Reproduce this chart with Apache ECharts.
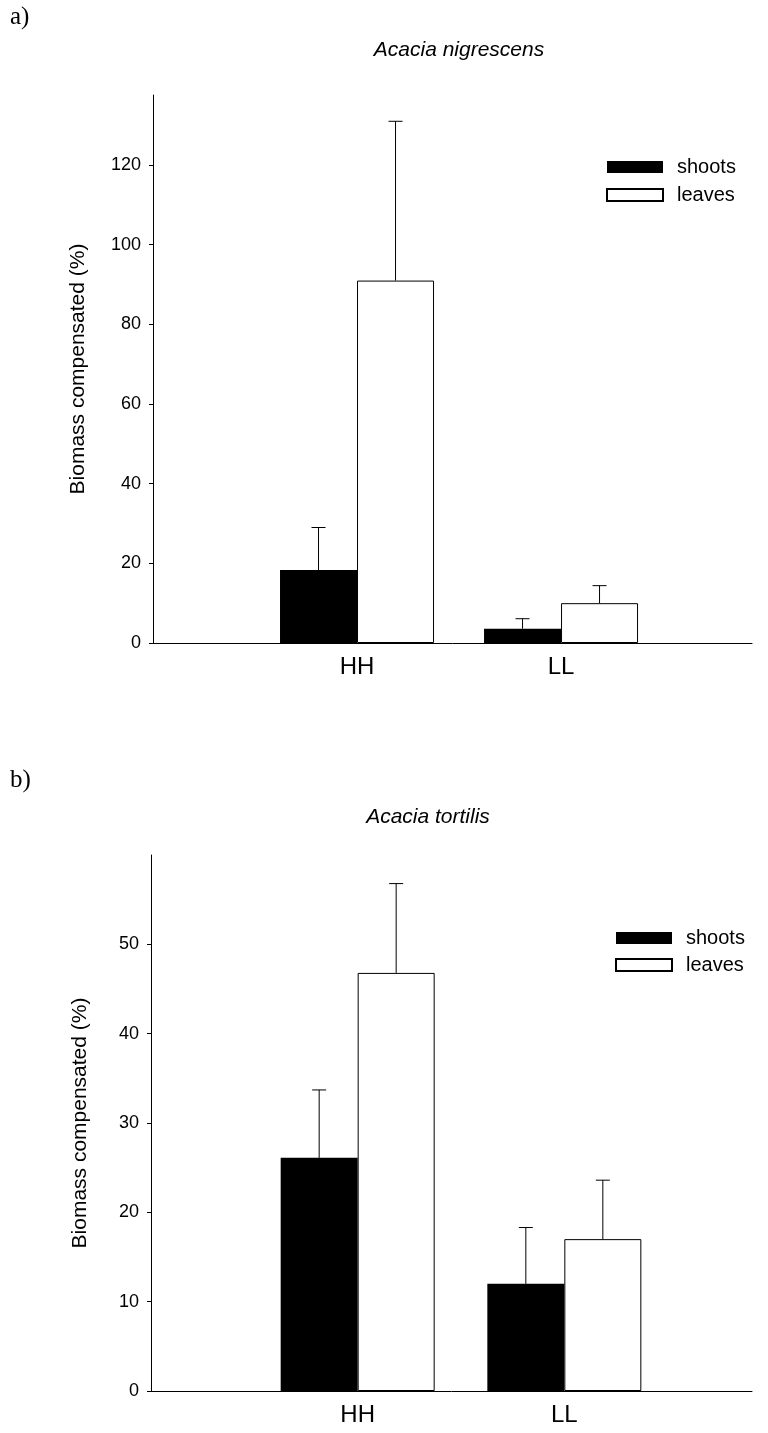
<!DOCTYPE html>
<html>
<head>
<meta charset="utf-8">
<script src="https://cdn.jsdelivr.net/npm/echarts@6/dist/echarts.min.js"></script>
<style>
  html, body { margin: 0; padding: 0; background: #fff; }
  #chart { width: 768px; height: 1433px; }
</style>
</head>
<body>
<div id="chart"></div>
<script>
// ---- data ----
const categories = ['HH', 'LL'];
const categoryPositions = [1, 2];
const seriesNames = ['shoots', 'leaves'];

// panel a) Acacia nigrescens
const aShoots = [18.3, 3.6];
const aShootsErr = [10.7, 2.5];
const aLeaves = [91.0, 10.0];
const aLeavesErr = [40.0, 4.4];
const aYTicks = [0, 20, 40, 60, 80, 100, 120];

// panel b) Acacia tortilis
const bShoots = [26.1, 12.0];
const bShootsErr = [7.6, 6.3];
const bLeaves = [46.8, 17.0];
const bLeavesErr = [10.0, 6.6];
const bYTicks = [0, 10, 20, 30, 40, 50];

const yName = 'Biomass compensated (%)';
const titles = ['Acacia nigrescens', 'Acacia tortilis'];
const panelLabels = ['a)', 'b)'];

// ---- chart ----
const FONT = '"Liberation Sans", Arial, sans-serif';
const SERIF = '"Liberation Serif", "Times New Roman", serif';
const BAR_W = 77;

function barData(vals) { return vals.map((v, i) => [categoryPositions[i], v]); }
function errData(vals, errs) { return vals.map((v, i) => [categoryPositions[i], v, errs[i]]); }

function errSeries(idx, vals, errs, side) {
  return {
    type: 'custom',
    xAxisIndex: idx, yAxisIndex: idx,
    z: 5,
    silent: true,
    data: errData(vals, errs),
    renderItem: function (params, api) {
      const x = api.value(0), y = api.value(1), e = api.value(2);
      const p0 = api.coord([x, y]);
      const p1 = api.coord([x, y + e]);
      const cx = p0[0] + side * BAR_W / 2;
      return {
        type: 'group',
        children: [
          { type: 'line', shape: { x1: cx, y1: p0[1], x2: cx, y2: p1[1] }, style: { stroke: '#000', lineWidth: 1 } },
          { type: 'line', shape: { x1: cx - 7, y1: p1[1], x2: cx + 7, y2: p1[1] }, style: { stroke: '#000', lineWidth: 1 } }
        ]
      };
    }
  };
}

function xAxisDef(idx, max) {
  return {
    type: 'value', gridIndex: idx, min: 0, max: max,
    axisLine: { show: true, lineStyle: { color: '#000', width: 1 } },
    axisTick: { show: false },
    splitLine: { show: false },
    axisLabel: {
      customValues: categoryPositions,
      formatter: v => categories[Math.round(v) - 1] || '',
      fontSize: 24, fontFamily: FONT, color: '#000', margin: 12
    }
  };
}

function yAxisDef(idx, max, ticks, nameGap) {
  return {
    type: 'value', gridIndex: idx, min: 0, max: max,
    name: yName, nameLocation: 'middle', nameGap: nameGap, nameRotate: 90,
    nameTextStyle: { fontSize: 21, fontFamily: FONT, color: '#000' },
    axisLine: { show: true, lineStyle: { color: '#000', width: 1 } },
    axisTick: { show: true, customValues: ticks, length: 4, lineStyle: { color: '#000' } },
    splitLine: { show: false },
    axisLabel: { customValues: ticks, fontSize: 18, fontFamily: FONT, color: '#000', margin: 12 }
  };
}

function barSeries(idx, name, vals) {
  const isShoot = name === 'shoots';
  return {
    type: 'bar', name: name,
    xAxisIndex: idx, yAxisIndex: idx,
    barWidth: BAR_W, barGap: '0%',
    itemStyle: isShoot ? { color: '#000', borderWidth: 0 } : { color: '#fff', borderColor: '#000', borderWidth: 1 },
    data: barData(vals)
  };
}

const chart = echarts.init(document.getElementById('chart'), null, { renderer: 'canvas' });
chart.setOption({
  backgroundColor: '#fff',
  animation: false,
  grid: [
    { left: 153, right: 16, top: 95, bottom: 790 },
    { left: 151, right: 16, top: 855, bottom: 42 }
  ],
  xAxis: [xAxisDef(0, 2.936), xAxisDef(1, 2.908)],
  yAxis: [yAxisDef(0, 137.6, aYTicks, 64), yAxisDef(1, 60, bYTicks, 60)],
  legend: [
    {
      data: seriesNames, orient: 'vertical', left: 606, top: 157, padding: 0,
      itemWidth: 56, itemHeight: 12, itemGap: 8, selectedMode: false,
      icon: 'rect',
      textStyle: { fontSize: 20, fontFamily: FONT, color: '#000', padding: [0, 0, 0, 9] }
    },
    {
      data: seriesNames, orient: 'vertical', left: 615, top: 928, padding: 0,
      itemWidth: 56, itemHeight: 12, itemGap: 7, selectedMode: false,
      icon: 'rect',
      textStyle: { fontSize: 20, fontFamily: FONT, color: '#000', padding: [0, 0, 0, 9] }
    }
  ],
  graphic: [
    { type: 'text', x: 10, y: 17, style: { text: panelLabels[0], font: '25px ' + SERIF, fill: '#000', align: 'left', verticalAlign: 'middle' } },
    { type: 'text', x: 459, y: 50, style: { text: titles[0], font: 'italic 21px ' + FONT, fill: '#000', align: 'center', verticalAlign: 'middle' } },
    { type: 'text', x: 10, y: 780, style: { text: panelLabels[1], font: '25px ' + SERIF, fill: '#000', align: 'left', verticalAlign: 'middle' } },
    { type: 'text', x: 428, y: 817, style: { text: titles[1], font: 'italic 21px ' + FONT, fill: '#000', align: 'center', verticalAlign: 'middle' } }
  ],
  series: [
    barSeries(0, 'shoots', aShoots),
    barSeries(0, 'leaves', aLeaves),
    errSeries(0, aShoots, aShootsErr, -1),
    errSeries(0, aLeaves, aLeavesErr, 1),
    barSeries(1, 'shoots', bShoots),
    barSeries(1, 'leaves', bLeaves),
    errSeries(1, bShoots, bShootsErr, -1),
    errSeries(1, bLeaves, bLeavesErr, 1)
  ]
});
</script>
</body>
</html>
